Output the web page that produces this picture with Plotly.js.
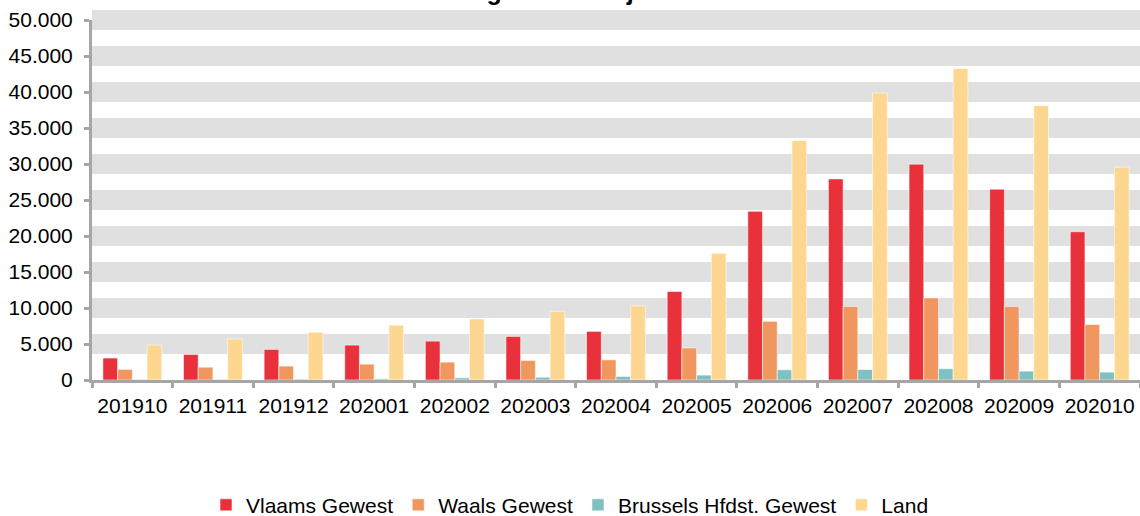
<!DOCTYPE html>
<html>
<head>
<meta charset="utf-8">
<script src="https://cdn.plot.ly/plotly-3.0.1.min.js"></script>
<style>html,body{margin:0;padding:0;background:#fff;}#chart{width:1140px;height:516px;}</style>
</head>
<body>
<div id="chart"></div>
<script>
const months = ["201910","201911","201912","202001","202002","202003","202004","202005","202006","202007","202008","202009","202010"];
const vlaams = [3050, 3550, 4250, 4850, 5400, 6050, 6750, 12300, 23430, 27930, 29980, 26500, 20590];
const waals = [1470, 1780, 1930, 2200, 2480, 2720, 2800, 4450, 8150, 10200, 11400, 10200, 7700];
const brussel = [80, 90, 110, 160, 300, 380, 490, 680, 1420, 1460, 1570, 1230, 1090];
const land = [4850, 5700, 6630, 7600, 8470, 9550, 10300, 17620, 33260, 39870, 43250, 38100, 29560];
const seriesNames = ["Vlaams Gewest", "Waals Gewest", "Brussels Hfdst. Gewest", "Land"];
const yTicks = [0, 5000, 10000, 15000, 20000, 25000, 30000, 35000, 40000, 45000, 50000];
const titleText = "Aantal dagen zonder job";

const colors = ["#E8313A", "#F0965F", "#80C0C0", "#FDD690"];
const yMax = 50000;
const bandHalf = 1390;
const font = "Liberation Sans, Arial, sans-serif";

const data = [vlaams, waals, brussel, land].map((vals, i) => ({
  type: "bar",
  x: months,
  y: vals,
  name: seriesNames[i],
  marker: {color: colors[i], line: {color: "rgba(255,255,255,0.55)", width: 1}},
  hoverinfo: "x+y+name"
}));

const shapes = yTicks.filter(v => v > 0).map(v => ({
  type: "rect", layer: "below", xref: "paper", yref: "paper",
  x0: 0, x1: 1, y0: (v - bandHalf) / yMax, y1: (v + bandHalf) / yMax,
  fillcolor: "#E0E0E0", line: {width: 0}
}));

const layout = {
  width: 1140, height: 516,
  margin: {l: 92, r: 0, t: 20, b: 136, pad: 0},
  paper_bgcolor: "#ffffff", plot_bgcolor: "rgba(0,0,0,0)",
  separators: ",.",
  font: {family: font, size: 21, color: "#000"},
  barmode: "group", bargap: 0.27, bargroupgap: 0,
  showlegend: true,
  legend: {orientation: "h", xref: "container", yref: "container", x: 0.5, xanchor: "center", y: 0.021, yanchor: "middle",
           font: {family: font, size: 21, color: "#000"}, itemwidth: 30, traceorder: "normal"},
  xaxis: {type: "category", showgrid: false, zeroline: false, showline: true, linecolor: "#A6A6A6", linewidth: 3,
          ticks: "outside", tickson: "boundaries", ticklen: 5, tickwidth: 3, tickcolor: "#A6A6A6", ticklabelstandoff: 5,
          tickangle: 0, tickfont: {family: font, size: 21, color: "#000"}, fixedrange: true},
  yaxis: {range: [0, yMax], tickvals: yTicks, tickformat: ",d", showgrid: false, zeroline: false,
          showline: true, linecolor: "#A6A6A6", linewidth: 3,
          ticks: "outside", ticklen: 5, tickwidth: 3, tickcolor: "#A6A6A6", ticklabelstandoff: 7,
          tickfont: {family: font, size: 21, color: "#000"}, fixedrange: true},
  shapes: shapes,
  annotations: [{text: "<b>" + titleText + "</b>", xref: "paper", yref: "paper", x: (372 - 92) / 1048, xanchor: "left",
                 y: 1 + 20 / 360, yanchor: "bottom", yshift: -7, showarrow: false,
                 font: {family: font, size: 25, color: "#000"}}]
};

Plotly.newPlot("chart", data, layout, {displayModeBar: false, staticPlot: true});
</script>
</body>
</html>
